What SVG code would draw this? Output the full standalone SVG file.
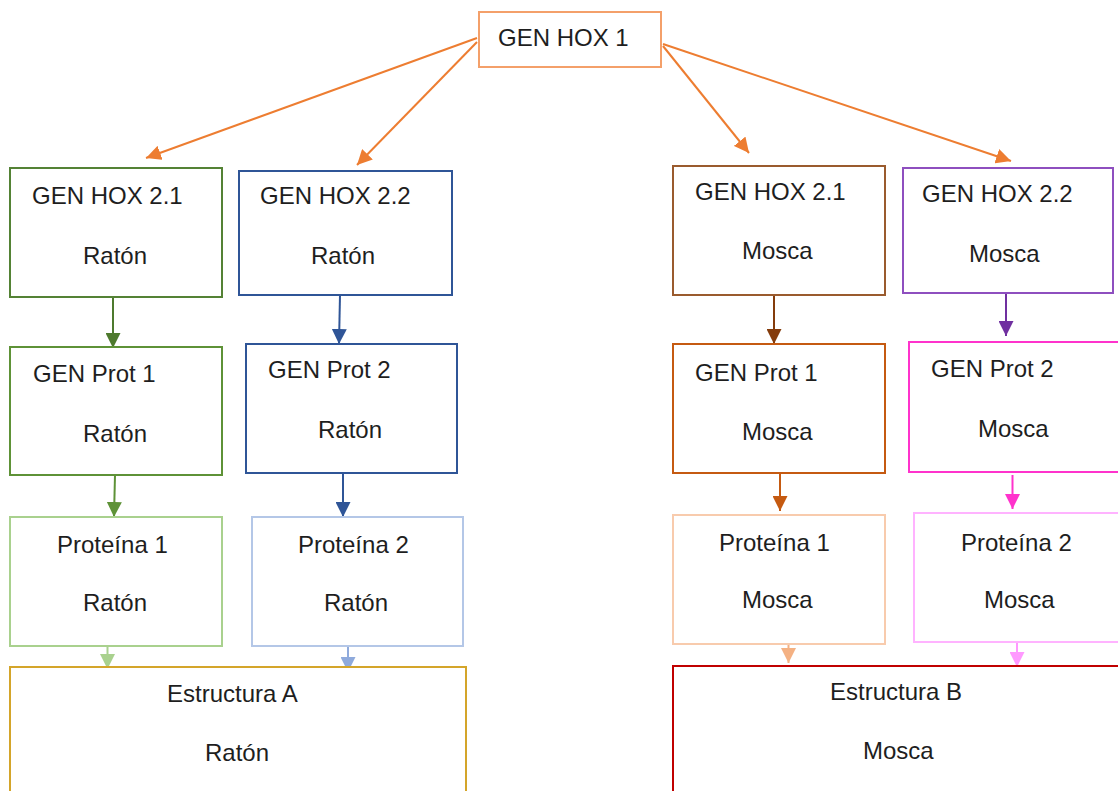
<svg xmlns="http://www.w3.org/2000/svg" width="1118" height="791" viewBox="0 0 1118 791">
<style>
text{font-family:"Liberation Sans",Arial,sans-serif;font-size:24px;fill:#1e1e1e}
rect{fill:#fff;stroke-width:2}
line{stroke-width:2}
</style>
<defs>
<marker id="mOr" markerUnits="userSpaceOnUse" markerWidth="16" markerHeight="15" refX="15" refY="7.5" orient="auto"><path d="M0,0L15,7.5L0,15z" fill="#ED7D31"/></marker>
<marker id="mG1" markerUnits="userSpaceOnUse" markerWidth="16" markerHeight="15" refX="15" refY="7.5" orient="auto"><path d="M0,0L15,7.5L0,15z" fill="#4E7A2E"/></marker>
<marker id="mG2" markerUnits="userSpaceOnUse" markerWidth="16" markerHeight="15" refX="15" refY="7.5" orient="auto"><path d="M0,0L15,7.5L0,15z" fill="#5E9237"/></marker>
<marker id="mG3" markerUnits="userSpaceOnUse" markerWidth="16" markerHeight="15" refX="15" refY="7.5" orient="auto"><path d="M0,0L15,7.5L0,15z" fill="#A9D18E"/></marker>
<marker id="mB1" markerUnits="userSpaceOnUse" markerWidth="16" markerHeight="15" refX="15" refY="7.5" orient="auto"><path d="M0,0L15,7.5L0,15z" fill="#2F5597"/></marker>
<marker id="mB3" markerUnits="userSpaceOnUse" markerWidth="16" markerHeight="15" refX="15" refY="7.5" orient="auto"><path d="M0,0L15,7.5L0,15z" fill="#8FAADC"/></marker>
<marker id="mBr" markerUnits="userSpaceOnUse" markerWidth="16" markerHeight="15" refX="15" refY="7.5" orient="auto"><path d="M0,0L15,7.5L0,15z" fill="#843C0C"/></marker>
<marker id="mOd" markerUnits="userSpaceOnUse" markerWidth="16" markerHeight="15" refX="15" refY="7.5" orient="auto"><path d="M0,0L15,7.5L0,15z" fill="#C55A11"/></marker>
<marker id="mOl" markerUnits="userSpaceOnUse" markerWidth="16" markerHeight="15" refX="15" refY="7.5" orient="auto"><path d="M0,0L15,7.5L0,15z" fill="#F4B183"/></marker>
<marker id="mPu" markerUnits="userSpaceOnUse" markerWidth="16" markerHeight="15" refX="15" refY="7.5" orient="auto"><path d="M0,0L15,7.5L0,15z" fill="#7030A0"/></marker>
<marker id="mMa" markerUnits="userSpaceOnUse" markerWidth="16" markerHeight="15" refX="15" refY="7.5" orient="auto"><path d="M0,0L15,7.5L0,15z" fill="#FF33CC"/></marker>
<marker id="mPk" markerUnits="userSpaceOnUse" markerWidth="16" markerHeight="15" refX="15" refY="7.5" orient="auto"><path d="M0,0L15,7.5L0,15z" fill="#FF99FF"/></marker>
</defs>
<rect x="0" y="0" width="1118" height="791" style="fill:#fff;stroke:none"/>

<g id="connectors">
<line x1="477" y1="38" x2="146" y2="158" stroke="#ED7D31" marker-end="url(#mOr)"/>
<line x1="477" y1="42" x2="357" y2="165" stroke="#ED7D31" marker-end="url(#mOr)"/>
<line x1="663" y1="46" x2="749" y2="153" stroke="#ED7D31" marker-end="url(#mOr)"/>
<line x1="663" y1="44" x2="1011" y2="161" stroke="#ED7D31" marker-end="url(#mOr)"/>
<line x1="113" y1="297" x2="113" y2="348" stroke="#4E7A2E" marker-end="url(#mG1)"/>
<line x1="340" y1="295" x2="339" y2="344" stroke="#2F5597" marker-end="url(#mB1)"/>
<line x1="115" y1="475" x2="114" y2="517" stroke="#5E9237" marker-end="url(#mG2)"/>
<line x1="343" y1="473" x2="343" y2="517" stroke="#2F5597" marker-end="url(#mB1)"/>
<line x1="107.5" y1="646" x2="107.5" y2="669" stroke="#A9D18E" marker-end="url(#mG3)"/>
<line x1="348" y1="646" x2="348" y2="672" stroke="#8FAADC" marker-end="url(#mB3)"/>
<line x1="774" y1="295" x2="774" y2="344" stroke="#843C0C" marker-end="url(#mBr)"/>
<line x1="1006" y1="293" x2="1006" y2="336" stroke="#7030A0" marker-end="url(#mPu)"/>
<line x1="780" y1="473" x2="780" y2="511" stroke="#C55A11" marker-end="url(#mOd)"/>
<line x1="1012.5" y1="475" x2="1012.5" y2="509" stroke="#FF33CC" marker-end="url(#mMa)"/>
<line x1="788.5" y1="644" x2="788.5" y2="663" stroke="#F4B183" marker-end="url(#mOl)"/>
<line x1="1017" y1="642" x2="1017" y2="667" stroke="#FF99FF" marker-end="url(#mPk)"/>
</g>

<g id="hox1"><rect x="479" y="12" width="182" height="55" stroke="#F4A06A"/><text x="498" y="46">GEN HOX 1</text></g>

<g id="hox21-raton"><rect x="10" y="168" width="212" height="129" stroke="#548235"/><text x="32" y="204">GEN HOX 2.1</text><text x="83" y="264">Ratón</text></g>
<g id="hox22-raton"><rect x="239" y="171" width="213" height="124" stroke="#2F5597"/><text x="260" y="204">GEN HOX 2.2</text><text x="311" y="264">Ratón</text></g>
<g id="hox21-mosca"><rect x="673" y="166" width="212" height="129" stroke="#9A5B2E"/><text x="695" y="200">GEN HOX 2.1</text><text x="742" y="259">Mosca</text></g>
<g id="hox22-mosca"><rect x="903" y="168" width="210" height="125" stroke="#8E4FBF"/><text x="922" y="202">GEN HOX 2.2</text><text x="969" y="262">Mosca</text></g>

<g id="prot1-raton"><rect x="10" y="347" width="212" height="128" stroke="#5E9237"/><text x="33" y="382">GEN Prot 1</text><text x="83" y="442">Ratón</text></g>
<g id="prot2-raton"><rect x="246" y="344" width="211" height="129" stroke="#2F5597"/><text x="268" y="378">GEN Prot 2</text><text x="318" y="438">Ratón</text></g>
<g id="prot1-mosca"><rect x="673" y="344" width="212" height="129" stroke="#C55A11"/><text x="695" y="381">GEN Prot 1</text><text x="742" y="440">Mosca</text></g>
<g id="prot2-mosca"><rect x="909" y="342" width="210" height="130" stroke="#FF33CC"/><text x="931" y="377">GEN Prot 2</text><text x="978" y="437">Mosca</text></g>

<g id="proteina1-raton"><rect x="10" y="517" width="212" height="129" stroke="#A9D18E"/><text x="57" y="553">Proteína 1</text><text x="83" y="611">Ratón</text></g>
<g id="proteina2-raton"><rect x="252" y="517" width="211" height="129" stroke="#B4C7E7"/><text x="298" y="553">Proteína 2</text><text x="324" y="611">Ratón</text></g>
<g id="proteina1-mosca"><rect x="673" y="515" width="212" height="129" stroke="#F8CBAD"/><text x="719" y="551">Proteína 1</text><text x="742" y="608">Mosca</text></g>
<g id="proteina2-mosca"><rect x="914" y="513" width="210" height="129" stroke="#FFB3FF"/><text x="961" y="551">Proteína 2</text><text x="984" y="608">Mosca</text></g>

<g id="estructura-a"><rect x="10" y="667" width="456" height="140" stroke="#D4A52A"/><text x="167" y="702">Estructura A</text><text x="205" y="761">Ratón</text></g>
<g id="estructura-b"><rect x="673" y="666" width="460" height="140" stroke="#C00000"/><text x="830" y="700">Estructura B</text><text x="863" y="759">Mosca</text></g>
</svg>
